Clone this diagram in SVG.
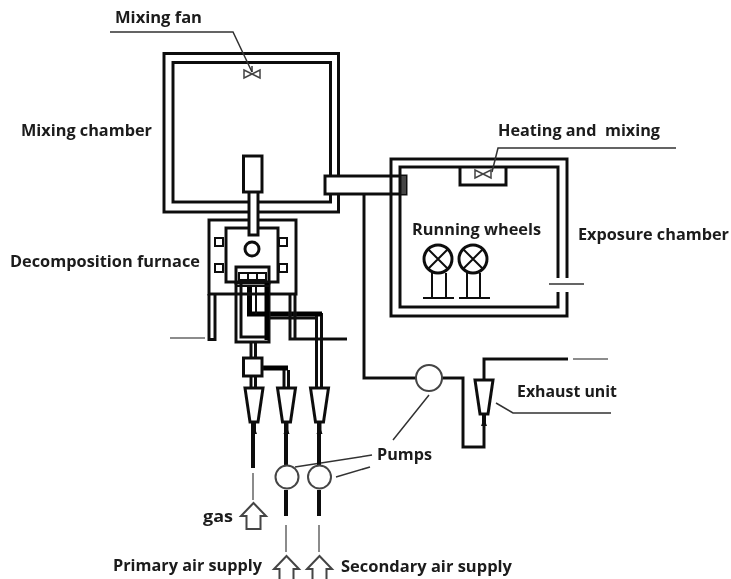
<svg xmlns="http://www.w3.org/2000/svg" width="731" height="579" viewBox="0 0 731 579">
<style>
.l{fill:none;stroke:#111;stroke-width:3}
.m{fill:none;stroke:#111;stroke-width:2}
.t{fill:none;stroke:#333;stroke-width:1.500}
.g{fill:none;stroke:#666;stroke-width:1.500}
.w{fill:#fff;stroke:#111;stroke-width:3}
.p{fill:#fff;stroke:#444;stroke-width:2}
.b{fill:none;stroke:#111;stroke-width:4}
.h{fill:none;stroke:#000;stroke-width:5}
.a{fill:#fff;stroke:#444;stroke-width:2}
.f{fill:#fff;stroke:#444;stroke-width:1.500}
text{font-family:"Open Sans","Noto Sans",sans-serif;font-weight:700;font-size:16.500px;fill:#1a1a1a;white-space:pre}
</style>
<defs>
<filter id="soft" x="0" y="0" width="100%" height="100%"><feGaussianBlur stdDeviation="0.45"/></filter>
<g id="cone"><path class="w" d="M-9 0H9L4 34H-4Z"/><path d="M0 34V46" class="b"/><path d="M-3 46H3L0 38Z" fill="#111"/></g>
<path id="arrow" class="a" d="M0 0L12.500 13H7V26H-7V13H-12.500Z"/>
<path id="fan" class="f" d="M-8 -5L8 3V-5L-8 3Z"/>
</defs>
<rect width="731" height="579" fill="#fff"/>
<g filter="url(#soft)">
<g id="mixing-chamber">
<rect class="l" x="164" y="53.500" width="174.500" height="158.500"/>
<rect class="l" x="173" y="62.500" width="157.500" height="139.500"/>
</g>
<g id="transfer-duct">
<rect class="w" x="325" y="176" width="81" height="18"/>
<rect x="400" y="176" width="6" height="18" fill="#444"/>
</g>
<g id="exposure-chamber">
<path class="l" d="M567 278V159H391V316H567V292"/>
<path class="l" d="M558 278V167H400V307H558V292"/>
<path class="t" d="M549 284H584"/>
<path class="l" d="M460 167V185H506V167"/>
</g>
<g id="connectors">
<path class="l" d="M364 194V378H416"/>
<path class="l" d="M442 378H463V447H484V424"/>
<path class="l" d="M484 380V359H568"/>
<path class="g" d="M573 359H608"/>
<path class="g" d="M170 338H205"/>
<path class="t" d="M110 32H233L252 72"/>
<path class="t" d="M676 148H498L492 172"/>
<path class="t" d="M496 403L513 413H611"/>
<path class="t" d="M295 467L372 455M336 477L370 467M429 395L393 440"/>
<path class="b" d="M253 422V468M286 422V466M319 422V465M286 490V516M319 490V516"/>
<path class="g" d="M253 473V500M286 525V552M319 525V552"/>
<path class="l" d="M251 342V358M255.500 342V358M251 376V388M255.500 376V388M284 370V388M288.500 370V388M316.500 313V388M321.500 313V388"/>
<path class="h" d="M262 368H288"/>
<path class="h" d="M249.500 285V314H322"/>
<path class="l" d="M270 318H316"/>
</g>
<g id="decomposition-furnace">
<rect class="l" x="209" y="220" width="87" height="74"/>
<path class="l" d="M209 294V339.500H215V294M290 294V339H347M295 294V339"/>
<rect class="w" x="226" y="228" width="52" height="54"/>
<circle class="l" cx="252" cy="249" r="7"/>
<rect class="m" x="215" y="238" width="8" height="8"/>
<rect class="m" x="279" y="238" width="8" height="8"/>
<rect class="m" x="215" y="264" width="8" height="8"/>
<rect class="m" x="279" y="264" width="8" height="8"/>
<rect class="l" x="236" y="267" width="33" height="16"/>
<path class="m" d="M239 273H266V280H239ZM248 273V280M257 273V280"/>
<path class="l" d="M236 283V342H269V283"/>
<path class="l" d="M241 283V337H269"/>
<path class="h" d="M267 283V340"/>
<path class="m" d="M236 286H269M256 286V314"/>
</g>
<g id="mixing-tube">
<rect class="w" x="249" y="190" width="9" height="45"/>
<rect class="w" x="243.500" y="156" width="18.500" height="36"/>
</g>
<g id="mixing-fan"><path class="t" d="M252 66V72"/><use href="#fan" x="252" y="75"/></g>
<g id="heating-fan"><use href="#fan" x="483" y="175"/></g>
<g id="wheel-1">
<circle class="l" cx="438" cy="259" r="14"/>
<path class="m" d="M428 249L448 269M448 249L428 269M432 273V298M446 273V298M423 298H454"/>
</g>
<g id="wheel-2">
<circle class="l" cx="473" cy="259" r="14"/>
<path class="m" d="M463 249L483 269M483 249L463 269M467 273V298M480 273V298M459 298H490"/>
</g>
<g id="mixer"><rect class="w" x="243.500" y="358" width="18.500" height="18"/></g>
<g id="cone-1"><use href="#cone" x="254" y="388"/></g>
<g id="cone-2"><use href="#cone" x="286.500" y="388"/></g>
<g id="cone-3"><use href="#cone" x="319.500" y="388"/></g>
<g id="cone-4"><use href="#cone" x="484" y="380"/></g>
<g id="pump-1"><circle class="p" cx="287" cy="477" r="11.500"/></g>
<g id="pump-2"><circle class="p" cx="319.500" cy="477" r="11.500"/></g>
<g id="pump-3"><circle class="p" cx="429" cy="378" r="13"/></g>
<g id="arrow-gas"><use href="#arrow" x="253.500" y="503"/></g>
<g id="arrow-primary"><use href="#arrow" x="286.500" y="556"/></g>
<g id="arrow-secondary"><use href="#arrow" x="319.500" y="556"/></g>
<g id="labels">
<text x="115" y="23" textLength="87" lengthAdjust="spacingAndGlyphs">Mixing fan</text>
<text x="21" y="136" textLength="131" lengthAdjust="spacingAndGlyphs">Mixing chamber</text>
<text x="498" y="136" textLength="162" lengthAdjust="spacingAndGlyphs">Heating and  mixing</text>
<text x="412" y="235" textLength="129" lengthAdjust="spacingAndGlyphs">Running wheels</text>
<text x="578" y="240" textLength="151" lengthAdjust="spacingAndGlyphs">Exposure chamber</text>
<text x="10" y="267" textLength="190" lengthAdjust="spacingAndGlyphs">Decomposition furnace</text>
<text x="517" y="397" textLength="100" lengthAdjust="spacingAndGlyphs">Exhaust unit</text>
<text x="377" y="460" textLength="55" lengthAdjust="spacingAndGlyphs">Pumps</text>
<text x="203" y="522" textLength="30" lengthAdjust="spacingAndGlyphs">gas</text>
<text x="113" y="571" textLength="149" lengthAdjust="spacingAndGlyphs">Primary air supply</text>
<text x="341" y="572" textLength="171" lengthAdjust="spacingAndGlyphs">Secondary air supply</text>
</g>
</g>
</svg>
